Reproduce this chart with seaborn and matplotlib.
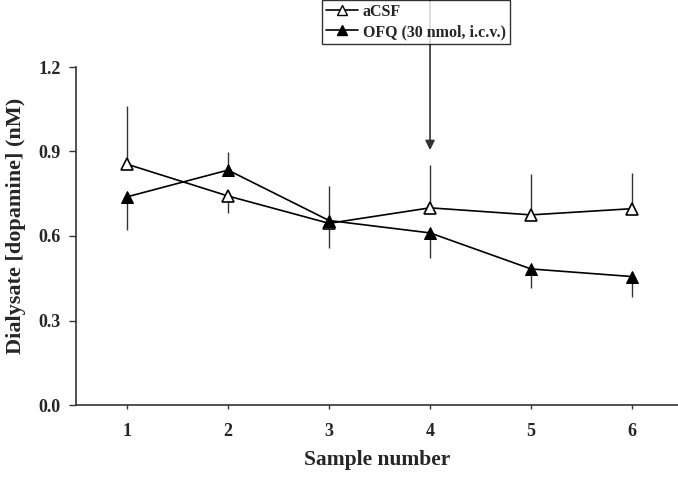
import numpy as np
import pandas as pd
import matplotlib
matplotlib.use("Agg")
import matplotlib.pyplot as plt
import seaborn as sns
from matplotlib.lines import Line2D

samples = [1, 2, 3, 4, 5, 6]
acsf_mean = [0.855, 0.742, 0.645, 0.700, 0.675, 0.697]
acsf_err_low = [0.0, 0.059, 0.0, 0.0, 0.0, 0.0]
acsf_err_high = [0.207, 0.0, 0.133, 0.152, 0.145, 0.128]
ofq_mean = [0.739, 0.834, 0.655, 0.611, 0.483, 0.456]
ofq_err_low = [0.118, 0.0, 0.098, 0.089, 0.066, 0.073]
ofq_err_high = [0.0, 0.065, 0.0, 0.0, 0.0, 0.0]
series_names = ["aCSF", "OFQ (30 nmol, i.c.v.)"]
y_ticks = [0.0, 0.3, 0.6, 0.9, 1.2]
arrow_sample = 4

sns.set_style("ticks")
plt.rcParams['font.family'] = ['Liberation Serif', 'DejaVu Serif']
plt.rcParams['font.weight'] = 'bold'

df = pd.DataFrame({
    "Sample": samples * 2,
    "Value": acsf_mean + ofq_mean,
    "Group": [series_names[0]] * 6 + [series_names[1]] * 6,
})

fig = plt.figure(figsize=(6.78, 4.88), dpi=100)
ax = fig.add_axes([76/678, 83/488, 602/678, 338/488])

# error bars (one-sided)
ax.errorbar(samples, acsf_mean, yerr=[acsf_err_low, acsf_err_high], fmt='none',
            ecolor='#333333', elinewidth=1.0, capsize=0, zorder=1)
ax.errorbar(samples, ofq_mean, yerr=[ofq_err_low, ofq_err_high], fmt='none',
            ecolor='#333333', elinewidth=1.0, capsize=0, zorder=1)

sns.lineplot(data=df, x="Sample", y="Value", hue="Group", style="Group",
             markers={series_names[0]: '^', series_names[1]: '^'},
             dashes=False, palette={series_names[0]: 'black', series_names[1]: 'black'},
             linewidth=1.2, markersize=8, ax=ax, legend=False, zorder=3)

six = [l for l in ax.get_lines() if len(l.get_xdata()) == 6]
ln_a, ln_o = six[0], six[1]
ln_a.set_markerfacecolor('white'); ln_a.set_markeredgecolor('black'); ln_a.set_markeredgewidth(1.2)
ln_o.set_markerfacecolor('black'); ln_o.set_markeredgecolor('black')

ax.set_xlim(0.495, 6.455)
ax.set_ylim(0, 1.2)
ax.set_yticks(y_ticks)
ax.set_yticklabels([f"{t:.1f}" for t in y_ticks])
ax.set_xticks(samples)
ax.tick_params(axis='y', direction='out', length=5, width=1, labelsize=13, pad=6, color='#333333')
ax.tick_params(axis='x', direction='out', length=3, width=1, labelsize=13, pad=10, color='#333333')
for lab in ax.get_xticklabels() + ax.get_yticklabels():
    lab.set_fontweight('bold')
sns.despine(ax=ax)
for s in ['left', 'bottom']:
    ax.spines[s].set_color('#333333')
    ax.spines[s].set_linewidth(1.2)

ax.set_xlabel("Sample number", fontsize=15.5, fontweight='bold', labelpad=7)
ax.set_ylabel("Dialysate [dopamine] (nM)", fontsize=16, fontweight='bold', labelpad=10)
ax.yaxis.set_label_coords(-0.083, 0.53)

# arrow at sample 4
ax.annotate("", xy=(arrow_sample, 0.905), xytext=(arrow_sample, 1.445),
            xycoords='data', textcoords='data', annotation_clip=False,
            arrowprops=dict(arrowstyle='-|>', color='#333333', lw=1.2,
                            mutation_scale=14, shrinkA=0, shrinkB=0))

handles = [
    Line2D([], [], color='black', marker='^', markerfacecolor='white', markeredgecolor='black', markersize=7, lw=1.2),
    Line2D([], [], color='black', marker='^', markerfacecolor='black', markeredgecolor='black', markersize=7, lw=1.2),
]
leg = fig.legend(handles, series_names, loc='upper left', bbox_to_anchor=(322/678, 1.0),
                 frameon=True, fancybox=False, edgecolor='black',
                 prop={'weight': 'bold', 'size': 11.5}, handlelength=2.0, handletextpad=0.3,
                 borderpad=0.25, labelspacing=0.25, borderaxespad=0)
leg.get_frame().set_linewidth(1.0)

fig.savefig("out.png", dpi=100)
